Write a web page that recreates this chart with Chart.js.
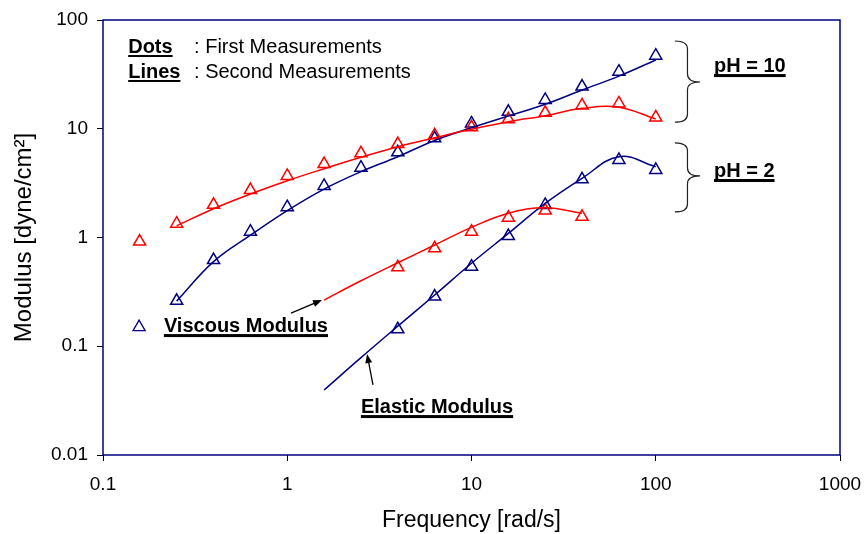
<!DOCTYPE html>
<html>
<head>
<meta charset="utf-8">
<title>Modulus vs Frequency</title>
<script src="https://cdn.jsdelivr.net/npm/chart.js@4.4.1/dist/chart.umd.min.js"></script>
<style>
  html, body { margin: 0; padding: 0; background: #fff; }
  #wrap { width: 865px; height: 534px; }
</style>
</head>
<body>
<div id="wrap"><canvas id="modChart" width="865" height="534"></canvas></div>
<script>
  // frequencies [rad/s], five per decade
  const freq = [0.158, 0.251, 0.398, 0.631, 1, 1.585, 2.512, 3.981, 6.31, 10, 15.85, 25.12, 39.81, 63.1, 100];

  // first measurements (dots)
  const viscPh10 = [0.918, 1.34, 2.00, 2.73, 3.68, 4.74, 5.95, 7.24, 8.7, 10.3, 12.2, 14.0, 16.4, 17.1, 12.7];
  const elasPh10 = [null, 0.262, 0.62, 1.13, 1.90, 2.98, 4.38, 6.07, 8.17, 11.2, 14.3, 18.4, 24.4, 33.5, 47.0];
  const viscPh2 = [null, null, null, null, null, null, null, 0.532, 0.796, 1.13, 1.52, 1.77, 1.55, null, null];
  const elasPh2 = [null, null, null, null, null, null, null, 0.143, 0.286, 0.539, 1.03, 1.99, 3.43, 5.16, 4.18];

  // second measurements (lines)
  const viscPh10Line = [null, 1.28, 1.84, 2.51, 3.33, 4.29, 5.46, 6.84, 8.25, 9.88, 11.6, 13.2, 15.4, 15.8, 12.3];
  const elasPh10Line = [null, 0.26, 0.60, 1.05, 1.77, 2.79, 4.03, 5.53, 7.8, 10.2, 13.1, 16.8, 22.7, 30.5, 42.9];
  const viscPh2Line = [null, null, null, null, null, 0.266, 0.40, 0.586, 0.853, 1.24, 1.67, 1.88, 1.67, null, null];
  const elasPh2Line = [null, null, null, null, null, 0.0396, 0.0785, 0.153, 0.296, 0.58, 1.09, 2.06, 3.50, 5.53, 4.48];

  const xTicks = [0.1, 1, 10, 100, 1000];
  const yTicks = [0.01, 0.1, 1, 10, 100];

  const RED = '#ff0000';
  const NAVY = '#000080';
  const FONT = '"Liberation Sans", Arial, sans-serif';

  // text notes, anchored in data coordinates
  const notes = [
    { text: 'Dots', x: 0.137, y: 49.7, bold: true, line: 2 },
    { text: ': First Measurements', x: 0.312, y: 49.7 },
    { text: 'Lines', x: 0.137, y: 29.3, bold: true, line: 2 },
    { text: ': Second Measurements', x: 0.312, y: 29.3 },
    { text: 'pH = 10', x: 207, y: 33.2, bold: true, line: 3 },
    { text: 'pH = 2', x: 207, y: 3.6, bold: true, line: 3 },
    { text: 'Viscous Modulus', x: 0.214, y: 0.135, bold: true, line: 3 },
    { text: 'Elastic Modulus', x: 2.51, y: 0.0243, bold: true, line: 3 }
  ];
  const braces = [
    { x0: 127, x1: 174, top: 64.1, tip: 26.9, bottom: 11.5 },
    { x0: 127, x1: 174, top: 7.4, tip: 3.68, bottom: 1.72 }
  ];
  const arrows = [
    { from: [1.048, 0.202], to: [1.544, 0.266] },
    { from: [2.92, 0.0441], to: [2.71, 0.0849] }
  ];
  const keyMarker = { x: 0.157, y: 0.150 };

  function toPoints(values) {
    const pts = [];
    values.forEach((v, i) => {
      if (v !== null) pts.push({ x: freq[i], y: v });
    });
    return pts;
  }

  function dots(values, color) {
    return {
      data: toPoints(values),
      showLine: false,
      pointStyle: 'triangle',
      pointRadius: 7,
      pointHoverRadius: 7,
      pointBorderWidth: 1.5,
      pointBorderColor: color,
      pointBackgroundColor: 'rgba(0,0,0,0)',
      borderColor: color
    };
  }

  function curve(values, color) {
    return {
      data: toPoints(values),
      showLine: true,
      pointRadius: 0,
      borderWidth: 1.5,
      borderColor: color,
      tension: 0.4
    };
  }

  const notesPlugin = {
    id: 'notes',
    afterDatasetsDraw(chart) {
      const ctx = chart.ctx;
      const xs = chart.scales.x, ys = chart.scales.y;
      const px = v => xs.getPixelForValue(v);
      const py = v => ys.getPixelForValue(v);
      const area = chart.chartArea;

      ctx.save();
      // plot frame
      ctx.strokeStyle = NAVY;
      ctx.lineWidth = 1.5;
      ctx.strokeRect(area.left, area.top, area.right - area.left, area.bottom - area.top);

      // text and underlines
      ctx.fillStyle = '#000';
      ctx.textBaseline = 'alphabetic';
      ctx.textAlign = 'left';
      notes.forEach(n => {
        ctx.font = (n.bold ? 'bold ' : '') + '20px ' + FONT;
        const x = px(n.x), y = py(n.y);
        ctx.fillText(n.text, x, y);
        if (n.line) {
          const w = ctx.measureText(n.text).width;
          ctx.fillRect(x, y + 2, w, n.line);
        }
      });

      // curly braces
      ctx.strokeStyle = '#222';
      ctx.lineWidth = 1.2;
      braces.forEach(b => {
        const x0 = px(b.x0), x1 = px(b.x1), xm = (x0 + x1) / 2;
        const t = py(b.top), m = py(b.tip), e = py(b.bottom);
        ctx.beginPath();
        ctx.moveTo(x0, t);
        ctx.quadraticCurveTo(xm, t, xm, t + 8);
        ctx.lineTo(xm, m - 8);
        ctx.quadraticCurveTo(xm, m, x1, m);
        ctx.quadraticCurveTo(xm, m, xm, m + 8);
        ctx.lineTo(xm, e - 8);
        ctx.quadraticCurveTo(xm, e, x0, e);
        ctx.stroke();
      });

      // arrows
      ctx.strokeStyle = '#000';
      ctx.fillStyle = '#000';
      ctx.lineWidth = 1.3;
      arrows.forEach(a => {
        const x0 = px(a.from[0]), y0 = py(a.from[1]);
        const x1 = px(a.to[0]), y1 = py(a.to[1]);
        const ang = Math.atan2(y1 - y0, x1 - x0);
        ctx.beginPath();
        ctx.moveTo(x0, y0);
        ctx.lineTo(x1 - 6 * Math.cos(ang), y1 - 6 * Math.sin(ang));
        ctx.stroke();
        ctx.beginPath();
        ctx.moveTo(x1, y1);
        ctx.lineTo(x1 - 9 * Math.cos(ang) + 3.5 * Math.sin(ang), y1 - 9 * Math.sin(ang) - 3.5 * Math.cos(ang));
        ctx.lineTo(x1 - 9 * Math.cos(ang) - 3.5 * Math.sin(ang), y1 - 9 * Math.sin(ang) + 3.5 * Math.cos(ang));
        ctx.closePath();
        ctx.fill();
      });

      // hollow marker beside the viscous label
      ctx.strokeStyle = NAVY;
      ctx.fillStyle = 'rgba(0,0,0,0)';
      Chart.helpers.drawPoint(ctx, {
        pointStyle: 'triangle', radius: 7, borderWidth: 1.5, rotation: 0
      }, px(keyMarker.x), py(keyMarker.y));
      ctx.restore();
    }
  };

  const ctx = document.getElementById('modChart').getContext('2d');
  new Chart(ctx, {
    type: 'scatter',
    data: {
      datasets: [
        curve(viscPh10Line, RED),
        curve(elasPh10Line, NAVY),
        curve(viscPh2Line, RED),
        curve(elasPh2Line, NAVY),
        dots(viscPh10, RED),
        dots(elasPh10, NAVY),
        dots(viscPh2, RED),
        dots(elasPh2, NAVY)
      ]
    },
    options: {
      responsive: false,
      devicePixelRatio: 1,
      animation: false,
      layout: { padding: { left: 0, right: 25, top: 20, bottom: 0 } },
      plugins: { legend: { display: false }, tooltip: { enabled: false } },
      scales: {
        x: {
          type: 'logarithmic',
          min: 0.1,
          max: 1000,
          afterBuildTicks: s => { s.ticks = xTicks.map(v => ({ value: v })); },
          afterFit: s => { s.height = 79; s.paddingLeft = 0; s.paddingRight = 0; },
          ticks: {
            color: '#000',
            font: { family: FONT, size: 19 },
            padding: 12,
            maxRotation: 0,
            callback: v => String(v)
          },
          grid: { drawOnChartArea: false, tickLength: 6, tickColor: '#000', tickWidth: 1 },
          border: { display: false },
          title: {
            display: true,
            text: 'Frequency [rad/s]',
            color: '#000',
            font: { family: FONT, size: 23 },
            padding: { top: 0, bottom: 0 }
          }
        },
        y: {
          type: 'logarithmic',
          min: 0.01,
          max: 100,
          afterBuildTicks: s => { s.ticks = yTicks.map(v => ({ value: v })); },
          afterFit: s => { s.width = 103; s.paddingTop = 0; s.paddingBottom = 0; },
          ticks: {
            color: '#000',
            font: { family: FONT, size: 19 },
            padding: 9,
            callback: v => String(v)
          },
          grid: { drawOnChartArea: false, tickLength: 6, tickColor: '#000', tickWidth: 1 },
          border: { display: false },
          title: {
            display: true,
            text: 'Modulus [dyne/cm²]',
            color: '#000',
            font: { family: FONT, size: 24 },
            padding: { top: 10, bottom: 0 }
          }
        }
      }
    },
    plugins: [notesPlugin]
  });
</script>
</body>
</html>
